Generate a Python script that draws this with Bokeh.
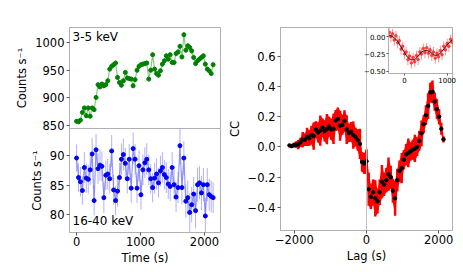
from bokeh.plotting import figure
from bokeh.models import Range1d, FixedTicker, Label, Span
from bokeh.layouts import row, column
from bokeh.embed import file_html
from bokeh.resources import INLINE

FONT = "DejaVu Sans"
SPINE = "#b0b0b0"
TICK = "#555555"

# ---------------- data ----------------
time_s = [30.5 * i for i in range(71)]

soft_rate = [858, 857, 860, 874, 882, 868, 882, 867, 882, 879,
             901, 924, 920, 925, 922, 924, 931, 952, 957, 960,
             963, 937, 928, 923, 931, 946, 936, 935, 934, 922,
             933, 950, 957, 960, 961, 962, 963, 934, 950, 978,
             952, 944, 941, 949, 961, 967, 976, 970, 978, 964,
             964, 980, 983, 993, 974, 1014, 986, 994, 991, 985,
             973, 962, 967, 970, 973, 976, 961, 952, 949, 944, 960]
soft_err = [4.2, 4.2, 4.3, 4.4, 4.5, 4.4, 4.5, 4.4, 4.5, 4.5,
            4.6, 4.7, 4.6, 4.7, 4.6, 4.7, 4.7, 4.8, 4.8, 4.8,
            4.8, 4.7, 4.7, 4.6, 4.7, 4.8, 4.7, 4.7, 4.7, 4.6,
            4.7, 4.8, 4.8, 4.8, 4.8, 4.8, 4.8, 4.7, 4.8, 4.9,
            4.8, 4.8, 4.7, 4.8, 4.8, 4.9, 4.9, 4.9, 4.9, 4.8,
            4.8, 4.9, 4.9, 5.0, 4.9, 5.0, 4.9, 5.0, 5.0, 4.9,
            4.9, 4.8, 4.9, 4.9, 4.9, 4.9, 4.8, 4.8, 4.8, 4.8, 4.8]

hard_rate = [89.6, 86.3, 85.6, 84.1, 88.0, 86.2, 86.0, 87.6, 90.3, 82.4,
             91.0, 87.8, 88.4, 88.2, 82.9, 86.7, 86.9, 86.1, 90.8, 84.2,
             82.4, 84.0, 86.3, 89.4, 90.2, 88.7, 86.1, 89.4, 84.5, 91.2,
             89.4, 84.5, 88.3, 83.4, 87.6, 88.8, 89.4, 87.6, 86.1, 84.6,
             86.2, 86.9, 85.4, 87.4, 88.0, 86.8, 86.3, 85.2, 84.8, 88.0,
             85.1, 83.0, 84.6, 91.7, 84.6, 89.6, 82.3, 82.9, 80.4, 81.7,
             83.5, 80.7, 85.1, 85.4, 83.7, 85.1, 79.8, 85.1, 83.4, 83.1, 82.9]
hard_err = [2.3, 2.4, 2.5, 2.4, 2.6, 2.5, 2.4, 2.6, 2.7, 2.5,
            2.7, 2.6, 2.6, 2.5, 2.6, 2.5, 2.6, 2.5, 2.7, 2.5,
            2.5, 2.6, 2.5, 2.7, 2.7, 2.6, 2.5, 2.6, 2.5, 2.7,
            2.6, 2.5, 2.6, 2.5, 2.6, 2.6, 2.7, 2.6, 2.5, 2.5,
            2.6, 2.6, 2.5, 2.6, 2.6, 2.5, 2.6, 2.5, 2.5, 2.6,
            2.5, 2.5, 2.6, 3.2, 2.8, 2.9, 2.8, 2.9, 3.3, 3.0,
            2.9, 3.0, 2.9, 2.8, 2.9, 2.8, 3.1, 2.8, 2.7, 2.7, 2.6]

ccf_lag = [-2135 + 61 * i for i in range(71)]
ccf_val = [0.01, 0.005, 0.012, 0.015, 0.015, 0.03, 0.048, 0.047, 0.066, 0.058,
           0.078, 0.072, 0.115, 0.095, 0.108, 0.128, 0.105, 0.118, 0.135, 0.115,
           0.12, 0.175, 0.185, 0.14, 0.145, 0.172, 0.115, 0.092, 0.1, 0.078,
           0.066, 0.045, 0.02, -0.1, -0.11, -0.095, -0.28, -0.33, -0.3, -0.34,
           -0.36, -0.3, -0.23, -0.25, -0.22, -0.18, -0.2, -0.29, -0.34, -0.22,
           -0.16, -0.14, -0.085, -0.05, -0.04, -0.03, -0.018, -0.01, 0.0, 0.04,
           0.09, 0.15, 0.21, 0.27, 0.36, 0.365, 0.3, 0.25, 0.2, 0.12, 0.05]
ccf_err = [0.008, 0.01, 0.015, 0.02, 0.03, 0.03, 0.05, 0.04, 0.06, 0.05,
           0.06, 0.09, 0.055, 0.065, 0.1, 0.06, 0.07, 0.1, 0.065, 0.07,
           0.1, 0.07, 0.075, 0.1, 0.065, 0.07, 0.095, 0.06, 0.065, 0.09,
           0.06, 0.07, 0.1, 0.065, 0.07, 0.08, 0.11, 0.08, 0.085, 0.12,
           0.08, 0.085, 0.11, 0.075, 0.08, 0.11, 0.075, 0.08, 0.115, 0.075,
           0.07, 0.1, 0.065, 0.07, 0.095, 0.06, 0.065, 0.09, 0.06, 0.065,
           0.085, 0.06, 0.065, 0.085, 0.065, 0.075, 0.06, 0.065, 0.05, 0.04, 0.02]

inset_lag = [-360 + 40 * i for i in range(38)]
inset_val = [0.06, 0.0, 0.04, -0.05, 0.01, -0.09, -0.06, -0.18, -0.14, -0.25,
             -0.22, -0.33, -0.28, -0.38, -0.30, -0.36, -0.27, -0.33, -0.22, -0.25,
             -0.17, -0.23, -0.16, -0.24, -0.19, -0.27, -0.22, -0.31, -0.24, -0.29,
             -0.20, -0.26, -0.14, -0.19, -0.10, -0.14, -0.04, -0.08]
inset_err = [0.07, 0.08, 0.07, 0.08, 0.07, 0.08, 0.07, 0.08, 0.07, 0.08,
             0.07, 0.08, 0.07, 0.08, 0.07, 0.08, 0.07, 0.08, 0.07, 0.08,
             0.07, 0.08, 0.07, 0.08, 0.07, 0.08, 0.07, 0.08, 0.07, 0.08,
             0.07, 0.08, 0.07, 0.08, 0.07, 0.08, 0.07, 0.08]
inset_smooth = [0.02, 0.01, 0.0, -0.02, -0.04, -0.07, -0.11, -0.15, -0.19, -0.23,
                -0.27, -0.30, -0.32, -0.33, -0.335, -0.33, -0.31, -0.28, -0.25, -0.22,
                -0.21, -0.20, -0.20, -0.21, -0.22, -0.24, -0.26, -0.27, -0.27, -0.26,
                -0.24, -0.21, -0.18, -0.15, -0.12, -0.09, -0.07, -0.05]

cc_ticks = [-0.4, -0.2, 0.0, 0.2, 0.4, 0.6]
cc_labels = ["\u22120.4", "\u22120.2", "0.0", "0.2", "0.4", "0.6"]
lag_ticks = [-2000, 0, 2000]
lag_labels = ["\u22122000", "0", "2000"]
in_yticks = [-0.5, -0.25, 0.0]
in_ylabels = ["\u22120.50", "\u22120.25", "0.00"]
in_xticks = [0, 1000]
in_xlabels = ["0", "1000"]


def base_fig(w, h, xr, yr, bl, br, bt, bb, tick_px="11.5px", lab_px="11.5px"):
    p = figure(width=w, height=h, x_range=Range1d(xr[0], xr[1]), y_range=Range1d(yr[0], yr[1]),
               output_backend="svg", toolbar_location=None,
               min_border_left=bl, min_border_right=br, min_border_top=bt, min_border_bottom=bb)
    p.grid.visible = False
    p.outline_line_color = SPINE
    p.outline_line_width = 1
    p.background_fill_color = "white"
    p.border_fill_color = "white"
    for ax in p.axis:
        ax.axis_line_color = SPINE
        ax.major_tick_line_color = TICK
        ax.major_tick_in = 0
        ax.major_tick_out = 3
        ax.minor_tick_line_color = None
        ax.major_label_text_font = FONT
        ax.major_label_text_font_size = tick_px
        ax.major_label_text_color = "black"
        ax.major_label_standoff = 2
        ax.axis_label_text_font = FONT
        ax.axis_label_text_font_size = lab_px
        ax.axis_label_text_font_style = "normal"
        ax.axis_label_text_color = "black"
        ax.axis_label_standoff = 3
    return p


# ---------------- top-left: 3-5 keV ----------------
top = base_fig(224, 136, (-110, 2250), (845, 1027), 69, 4, 27, 8)
top.border_fill_alpha = 0.0
top.xaxis.visible = False
top.yaxis.ticker = FixedTicker(ticks=[850, 900, 950, 1000])
top.yaxis.axis_label = "Counts s\u207b\u00b9"
s_lo = [v - e for v, e in zip(soft_rate, soft_err)]
s_hi = [v + e for v, e in zip(soft_rate, soft_err)]
top.line(time_s, soft_rate, line_color="#7cc47c", line_width=1.2, line_alpha=0.9)
top.segment(x0=time_s, y0=s_lo, x1=time_s, y1=s_hi, line_color="#4caf4c", line_width=1, line_alpha=0.7)
top.segment(x0=[t - 12 for t in time_s], y0=soft_rate, x1=[t + 12 for t in time_s], y1=soft_rate,
            line_color="#4caf4c", line_width=1, line_alpha=0.7)
top.scatter(time_s, soft_rate, size=4, fill_color="#008000", line_color="#008000")
top.add_layout(Label(x=3, y=99, x_units="screen", y_units="screen", text="3-5 keV",
                     text_font=FONT, text_font_size="12px", text_color="black",
                     text_baseline="top", text_align="left"))

# ---------------- bottom-left: 16-40 keV ----------------
bot = base_fig(224, 140, (-110, 2250), (77, 94.6), 69, 4, 0, 36)
bot.border_fill_alpha = 0.0
bot.yaxis.ticker = FixedTicker(ticks=[80, 85, 90])
bot.xaxis.ticker = FixedTicker(ticks=[0, 1000, 2000])
bot.yaxis.axis_label = "Counts s\u207b\u00b9"
bot.xaxis.axis_label = "Time (s)"
bot.xaxis.major_label_standoff = 1
bot.xaxis.axis_label_standoff = 2
h_lo = [v - e for v, e in zip(hard_rate, hard_err)]
h_hi = [v + e for v, e in zip(hard_rate, hard_err)]
bot.line(time_s, hard_rate, line_color="#8080ff", line_width=1.2, line_alpha=0.8)
bot.segment(x0=time_s, y0=h_lo, x1=time_s, y1=h_hi, line_color="#6f6fff", line_width=1, line_alpha=0.55)
bot.scatter(time_s, hard_rate, size=4, fill_color="#0000ff", line_color="#0000ff")
bot.add_layout(Label(x=3, y=5, x_units="screen", y_units="screen", text="16-40 keV",
                     text_font=FONT, text_font_size="12px", text_color="black",
                     text_baseline="bottom", text_align="left"))
bot.margin = (-8, 0, 0, 0)

# ---------------- right: CCF ----------------
ccf = base_fig(236, 268, (-2384, 2384), (-0.553, 0.79), 54, 8, 27, 38)
ccf.yaxis.ticker = FixedTicker(ticks=cc_ticks)
ccf.yaxis.major_label_overrides = dict(zip(cc_ticks, cc_labels))
ccf.xaxis.ticker = FixedTicker(ticks=lag_ticks)
ccf.xaxis.major_label_overrides = dict(zip(lag_ticks, lag_labels))
ccf.yaxis.axis_label = "CC"
ccf.xaxis.axis_label = "Lag (s)"
ccf.xaxis.major_label_standoff = 1
ccf.xaxis.axis_label_standoff = 2
ccf.add_layout(Span(location=0, dimension="height", line_color="#c0c0c0", line_width=1))
c_lo = [v - e for v, e in zip(ccf_val, ccf_err)]
c_hi = [v + e for v, e in zip(ccf_val, ccf_err)]
ccf.varea(x=ccf_lag, y1=c_lo, y2=c_hi, fill_color="#ff0000", fill_alpha=1.0)
ccf.segment(x0=ccf_lag, y0=c_lo, x1=ccf_lag, y1=c_hi, line_color="#ff0000", line_width=2.5)
ccf.scatter(ccf_lag, ccf_val, size=3.5, fill_color="black", line_color="black")

# ---------------- inset (row alignment forces a 38px bottom border) ----------------
ins = base_fig(99, 111, (-375, 1125), (-0.53, 0.13), 26, 8, 27, 38, tick_px="7px", lab_px="7px")
ins.border_fill_alpha = 0.0
ins.yaxis.ticker = FixedTicker(ticks=in_yticks)
ins.yaxis.major_label_overrides = dict(zip(in_yticks, in_ylabels))
ins.xaxis.ticker = FixedTicker(ticks=in_xticks)
ins.xaxis.major_label_overrides = dict(zip(in_xticks, in_xlabels))
for ax in ins.axis:
    ax.major_tick_out = 2
    ax.major_label_standoff = 1
i_lo = [v - e for v, e in zip(inset_val, inset_err)]
i_hi = [v + e for v, e in zip(inset_val, inset_err)]
ins.segment(x0=inset_lag, y0=i_lo, x1=inset_lag, y1=i_hi, line_color="#ff6060", line_width=1, line_alpha=0.7)
ins.scatter(inset_lag, inset_val, size=2.5, fill_color="#ff2020", line_color="#ff2020", alpha=0.75)
ins.line(inset_lag, inset_smooth, line_color="black", line_width=1, line_alpha=0.85)
ins.margin = (0, 0, 0, -99)

layout = row(column(top, bot), ccf, ins)

with open("out.html", "w") as f:
    f.write(file_html(layout, INLINE))
